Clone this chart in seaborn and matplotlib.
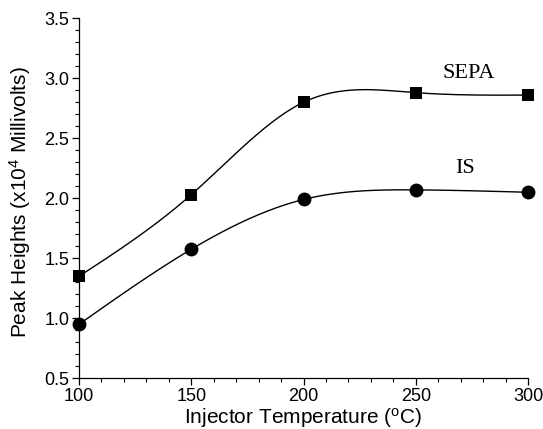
import numpy as np
import pandas as pd
import seaborn as sns
import matplotlib
matplotlib.use("Agg")
import matplotlib.pyplot as plt
from matplotlib.ticker import MultipleLocator

# data
temps = [100, 150, 200, 250, 300]
sepa = [1.35, 2.03, 2.80, 2.88, 2.86]
istd = [0.95, 1.575, 1.99, 2.07, 2.05]


# natural cubic spline so the lines look smooth like the original
def spline(x, y, n=200):
    x = np.asarray(x, float)
    y = np.asarray(y, float)
    k = len(x)
    h = np.diff(x)
    A = np.zeros((k, k))
    b = np.zeros(k)
    A[0, 0] = 1
    A[-1, -1] = 1
    for i in range(1, k - 1):
        A[i, i - 1] = h[i - 1]
        A[i, i] = 2 * (h[i - 1] + h[i])
        A[i, i + 1] = h[i]
        b[i] = 6 * ((y[i + 1] - y[i]) / h[i] - (y[i] - y[i - 1]) / h[i - 1])
    m = np.linalg.solve(A, b)
    xs = np.linspace(x[0], x[-1], n)
    idx = np.clip(np.searchsorted(x, xs) - 1, 0, k - 2)
    x0, x1 = x[idx], x[idx + 1]
    hh = x1 - x0
    t0, t1 = xs - x0, x1 - xs
    ys = (m[idx] * t1**3 + m[idx + 1] * t0**3) / (6 * hh) \
        + (y[idx] / hh - m[idx] * hh / 6) * t1 \
        + (y[idx + 1] / hh - m[idx + 1] * hh / 6) * t0
    return xs, ys


sns.set_style("ticks", {"text.color": "black", "axes.labelcolor": "black",
                        "xtick.color": "black", "ytick.color": "black",
                        "axes.edgecolor": "black"})
plt.rcParams['font.family'] = ['Liberation Sans', 'DejaVu Sans']
plt.rcParams['mathtext.default'] = 'regular'

fig = plt.figure(figsize=(5.43, 4.29), dpi=100)
ax = fig.add_axes([0.1455, 0.1182, 0.8269, 0.8392])

df = pd.DataFrame({"temp": temps, "SEPA": sepa, "IS": istd})

for col, mk, ms in [("SEPA", "s", 8.5), ("IS", "o", 10)]:
    xs, ys = spline(df["temp"], df[col])
    sns.lineplot(x=xs, y=ys, ax=ax, color="black", linewidth=1.0)
    sns.lineplot(data=df, x="temp", y=col, ax=ax, color="black",
                 linestyle="none", marker=mk, markersize=ms,
                 markeredgewidth=0, clip_on=False)

# series labels (serif, like the original)
ax.text(273.5, 3.04, "SEPA", family="Liberation Serif", fontsize=16,
        ha="center", va="center")
ax.text(272, 2.25, "IS", family="Liberation Serif", fontsize=16,
        ha="center", va="center")

ax.set_xlim(100, 300)
ax.set_ylim(0.5, 3.5)
ax.xaxis.set_major_locator(MultipleLocator(50))
ax.xaxis.set_minor_locator(MultipleLocator(10))
ax.yaxis.set_major_locator(MultipleLocator(0.5))
ax.yaxis.set_minor_locator(MultipleLocator(0.1))
ax.tick_params(which="major", length=5, width=0.9, labelsize=13, color="black",
               pad=2)
ax.tick_params(which="minor", length=3, width=0.8, color="black")
for s in ["top", "right"]:
    ax.spines[s].set_visible(False)
for s in ["left", "bottom"]:
    ax.spines[s].set_linewidth(0.9)

ax.set_xlabel("Injector Temperature ($^{o}$C)", fontsize=15)
ax.set_ylabel("Peak Heights (x10$^{4}$ Millivolts)", fontsize=15)
ax.xaxis.set_label_coords(0.499, -0.076)
ax.yaxis.set_label_coords(-0.102, 0.49)

fig.savefig("out.png", dpi=100)
